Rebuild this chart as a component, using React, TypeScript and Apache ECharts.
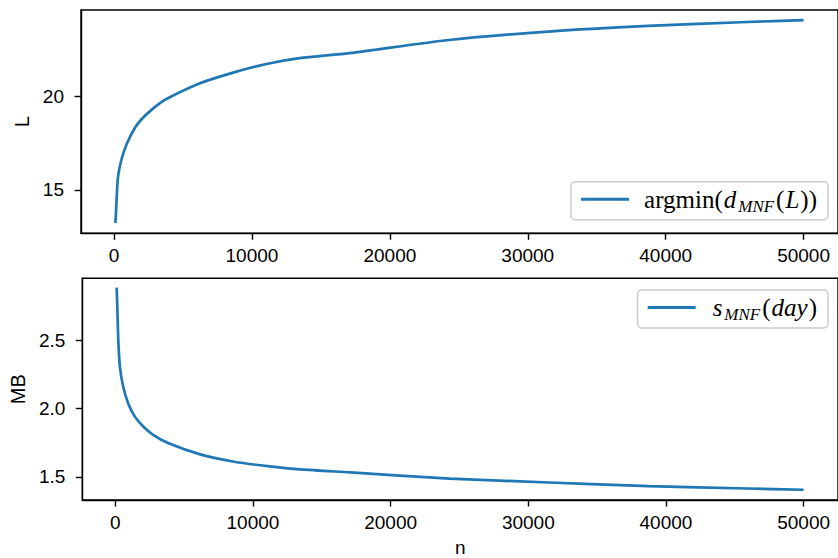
import React, { useEffect, useRef } from "react";
import * as echarts from "echarts";

// Top panel: L vs n
const nTop = [100, 150, 220, 290, 530, 940, 1540, 2030, 2630, 3230, 3830, 6230, 8640, 11050, 13450, 17060, 24280, 31490, 38710, 45930, 50000];
const lTop = [13.23, 13.93, 15.0, 15.71, 16.6, 17.49, 18.35, 18.8, 19.22, 19.58, 19.87, 20.69, 21.26, 21.72, 22.03, 22.3, 23.0, 23.45, 23.75, 23.96, 24.06];

// Bottom panel: MB vs n
const nBottom = [100, 150, 220, 340, 580, 940, 1420, 2030, 2750, 3830, 6230, 8640, 11050, 13450, 17060, 24280, 31490, 38710, 45930, 50000];
const mbBottom = [2.884, 2.735, 2.494, 2.3, 2.157, 2.036, 1.94, 1.868, 1.807, 1.747, 1.662, 1.61, 1.578, 1.554, 1.532, 1.487, 1.458, 1.431, 1.414, 1.405];

const xTicks = [0, 10000, 20000, 30000, 40000, 50000];
const yTopTicks = [15, 20];
const yBottomTicks = [1.5, 2.0, 2.5];

const topName = "argmin(d_MNF(L))";
const bottomName = "s_MNF(day)";

const BLUE = "#1f77b4";
const TICK_FONT = "Liberation Sans";
const MATH_FONT = "Liberation Serif";

export default function App() {
  const ref = useRef<HTMLDivElement>(null);
  useEffect(() => {
    if (!ref.current) return;
    const chart = echarts.init(ref.current, undefined, { renderer: "svg" });

    const axisLine = { show: true, onZero: false, lineStyle: { color: "#000", width: 1.4 } };
    const axisTick = (vals: number[]) => ({
      show: true,
      length: 6.5,
      customValues: vals,
      lineStyle: { color: "#000", width: 1.4 },
    });
    const labelBase = { color: "#000", fontFamily: TICK_FONT, fontSize: 19 };

    const xAxisCommon = (gridIndex: number, withName: boolean) => ({
      type: "value",
      gridIndex,
      min: -2395,
      max: 52495,
      axisLine,
      axisTick: axisTick(xTicks),
      axisLabel: { ...labelBase, margin: 13, customValues: xTicks, formatter: (v: number) => String(v) },
      splitLine: { show: false },
      name: withName ? "n" : "",
      nameLocation: "middle",
      nameGap: 38,
      nameTextStyle: { ...labelBase },
    });

    const rich = {
      r0: { fontFamily: MATH_FONT, fontSize: 25, color: "#000", padding: [0, 0, 0, 10] },
      r: { fontFamily: MATH_FONT, fontSize: 25, color: "#000" },
      i: { fontFamily: MATH_FONT, fontSize: 25, fontStyle: "italic", color: "#000", padding: [0, 1, 0, 1] },
      i0: { fontFamily: MATH_FONT, fontSize: 25, fontStyle: "italic", color: "#000", padding: [0, 1, 0, 12] },
      s: { fontFamily: MATH_FONT, fontSize: 17, fontStyle: "italic", color: "#000", padding: [14, 2, 0, 1] },
    };

    const legendBase = {
      orient: "vertical",
      right: 10,
      icon: "rect",
      itemWidth: 48,
      itemHeight: 3,
      selectedMode: false,
      backgroundColor: "rgba(255,255,255,0.8)",
      borderColor: "#cccccc",
      borderWidth: 1.5,
      borderRadius: 4,
      padding: [5, 11, 5, 10],
      textStyle: { rich },
    };

    chart.setOption({
      animation: false,
      backgroundColor: "#fff",
      grid: [
        { left: 81, top: 10, width: 760.4, height: 223.3, show: true, borderColor: "#000", borderWidth: 1.4, backgroundColor: "transparent" },
        { left: 81, top: 278.3, width: 760.4, height: 224.4, show: true, borderColor: "#000", borderWidth: 1.4, backgroundColor: "transparent" },
      ],
      xAxis: [xAxisCommon(0, false), xAxisCommon(1, true)],
      yAxis: [
        {
          type: "value",
          gridIndex: 0,
          min: 12.69,
          max: 24.6,
          axisLine,
          axisTick: axisTick(yTopTicks),
          axisLabel: { ...labelBase, margin: 17, customValues: yTopTicks },
          splitLine: { show: false },
          name: "L",
          nameLocation: "middle",
          nameGap: 42,
          nameTextStyle: { ...labelBase, fontSize: 20 },
        },
        {
          type: "value",
          gridIndex: 1,
          min: 1.33,
          max: 2.952,
          axisLine,
          axisTick: axisTick(yBottomTicks),
          axisLabel: {
            ...labelBase,
            margin: 17,
            customValues: yBottomTicks,
            formatter: (v: number) => v.toFixed(1),
          },
          splitLine: { show: false },
          name: "MB",
          nameLocation: "middle",
          nameGap: 50,
          nameTextStyle: { ...labelBase, fontSize: 20 },
        },
      ],
      legend: [
        {
          ...legendBase,
          top: 181.7,
          data: [topName],
          formatter: () => "{r0|argmin(}{i|d}{s|MNF}{r|(}{i|L}{r|))}",
        },
        {
          ...legendBase,
          top: 290,
          data: [bottomName],
          formatter: () => "{i0|s}{s|MNF}{r|(}{i|day}{r|)}",
        },
      ],
      series: [
        {
          name: topName,
          type: "line",
          xAxisIndex: 0,
          yAxisIndex: 0,
          data: nTop.map((n, k) => [n, lTop[k]]),
          showSymbol: false,
          smooth: 0.25,
          color: BLUE,
          itemStyle: { color: BLUE },
          lineStyle: { color: BLUE, width: 2.7 },
        },
        {
          name: bottomName,
          type: "line",
          xAxisIndex: 1,
          yAxisIndex: 1,
          data: nBottom.map((n, k) => [n, mbBottom[k]]),
          showSymbol: false,
          smooth: 0.25,
          color: BLUE,
          itemStyle: { color: BLUE },
          lineStyle: { color: BLUE, width: 2.7 },
        },
      ],
    });
    return () => chart.dispose();
  }, []);
  return (
    <div
      ref={ref}
      style={{ position: "fixed", left: 0, top: 0, width: 838, height: 558, background: "#fff" }}
    />
  );
}
